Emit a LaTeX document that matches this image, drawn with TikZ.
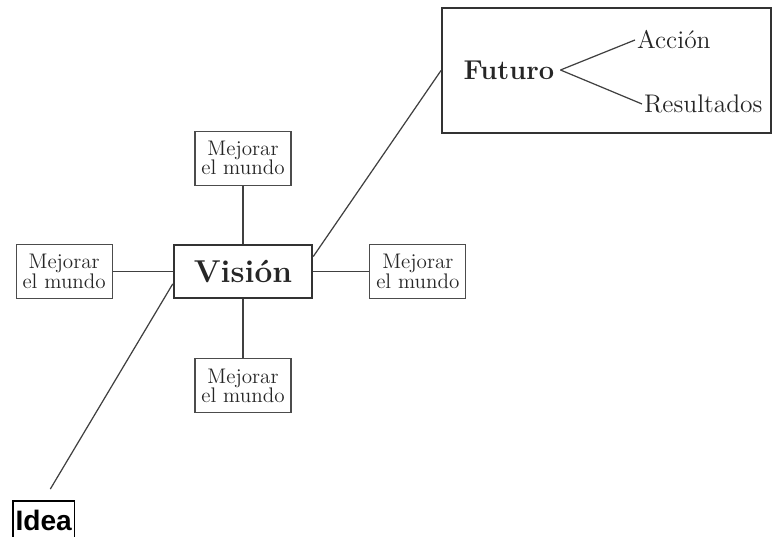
\documentclass[tikz,border=0pt]{standalone}
\usepackage{fontspec}
\newfontfamily\ideafont{Liberation Sans}
\usetikzlibrary{positioning}

\begin{document}
\begin{tikzpicture}[mejbox/.style={draw=black!70, line width=0.7pt, text=black!85, align=center,
                        minimum width=1.92cm, minimum height=1.08cm, inner sep=1pt,
                        font=\fontsize{12}{11}\selectfont},
                    link/.style={draw=black!75, line width=0.7pt},
                    node distance=1.16cm]
                    \useasboundingbox (0,0) rectangle (15.46,10.74);
                    % centre node and its four boxes
                    \node [draw=black!80, line width=1.4pt, text=black!85, minimum width=2.76cm, minimum height=1.06cm,
                        font=\fontsize{18}{20}\selectfont\bfseries] (vis) at (4.86,5.31) {Visión};
                    \node [mejbox, above=of vis] (mtop) {Mejorar\\el mundo};
                    \node [mejbox, left=1.2cm of vis] (mleft) {Mejorar\\el mundo};
                    \node [mejbox, right=1.12cm of vis] (mright) {Mejorar\\el mundo};
                    \node [mejbox, below=1.18cm of vis] (mbot) {Mejorar\\el mundo};
                    \draw [link] (mtop) -- (vis);
                    \draw [link] (mleft) -- (vis);
                    \draw [link] (mright) -- (vis);
                    \draw [link] (mbot) -- (vis);
                    % future box, top right
                    \node [draw=black!80, line width=1.1pt, minimum width=6.58cm, minimum height=2.5cm] (fbox) at (12.13,9.33) {};
                    \node [text=black!85, font=\fontsize{15.5}{17}\selectfont\bfseries] (fut) at (10.18,9.34) {Futuro};
                    \node [anchor=west, inner sep=1pt, text=black!85, font=\fontsize{14.5}{16}\selectfont] (acc) at (12.7,9.94) {Acción};
                    \node [anchor=west, inner sep=1pt, text=black!85, font=\fontsize{14.5}{16}\selectfont] (res) at (12.84,8.66) {Resultados};
                    \draw [link] (fut.east) -- (acc.west);
                    \draw [link] (fut.east) -- (res.west);
                    \draw [link] (vis.12) -- (fbox.west);
                    % idea, bottom left (lower edge runs off the page)
                    \node [draw=black, line width=1pt, anchor=south west, inner xsep=1.5pt, minimum height=0.76cm,
                        font=\ideafont\fontsize{16}{18}\selectfont\bfseries] (idea) at (0.24,-0.06) {Idea};
                    \draw [link, shorten >=0.26cm] (vis.190) -- (idea.north);
                \end{tikzpicture}
\end{document}
